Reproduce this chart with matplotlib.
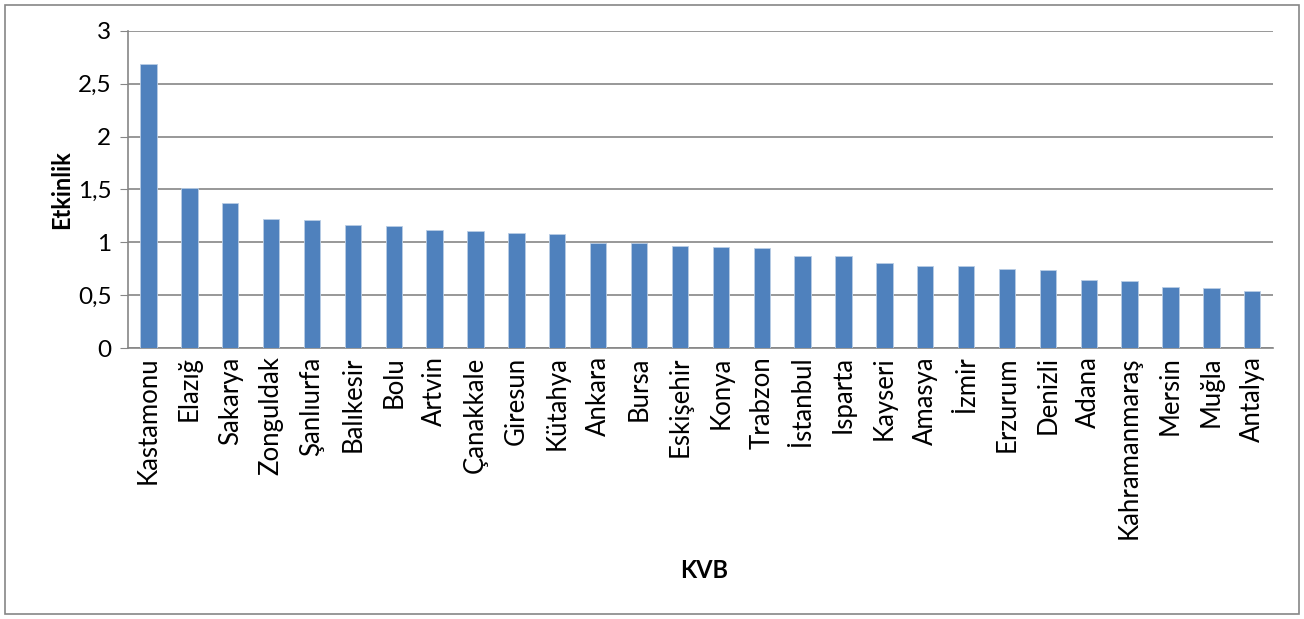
import numpy as np
import matplotlib.pyplot as plt
from matplotlib.patches import Rectangle

plt.rcParams['font.family'] = ['Lato', 'DejaVu Sans']

# veriler
iller = ['Kastamonu', 'Elazığ', 'Sakarya', 'Zonguldak', 'Şanlıurfa', 'Balıkesir',
         'Bolu', 'Artvin', 'Çanakkale', 'Giresun', 'Kütahya', 'Ankara', 'Bursa',
         'Eskişehir', 'Konya', 'Trabzon', 'İstanbul', 'Isparta', 'Kayseri',
         'Amasya', 'İzmir', 'Erzurum', 'Denizli', 'Adana', 'Kahramanmaraş',
         'Mersin', 'Muğla', 'Antalya']
etkinlik = [2.685, 1.515, 1.373, 1.216, 1.207, 1.166, 1.150, 1.112, 1.106, 1.090,
            1.078, 0.998, 0.995, 0.964, 0.955, 0.945, 0.872, 0.870, 0.803, 0.778,
            0.772, 0.745, 0.735, 0.640, 0.633, 0.577, 0.565, 0.542]
y_ticks = [0, 0.5, 1, 1.5, 2, 2.5, 3]
y_labels = ['0', '0,5', '1', '1,5', '2', '2,5', '3']

fig = plt.figure(figsize=(13.04, 6.19), dpi=100)
ax = fig.add_axes([0.0982, 0.4378, 0.8778, 0.5122])

x = np.arange(len(iller))
ax.bar(x, etkinlik, width=0.4, color='#4F81BD', edgecolor='#B9CDE5', linewidth=0.6, zorder=3)

ax.set_xlim(-0.5, len(iller) - 0.5)
ax.set_ylim(0, 3)
ax.set_yticks(y_ticks)
ax.set_yticklabels(y_labels, fontsize=17.5)
ax.set_xticks(x)
ax.set_xticklabels(iller, rotation=90, fontsize=18.5)
ax.tick_params(axis='x', length=0, pad=6)
ax.tick_params(axis='y', length=6, color='#868686', pad=6)

ax.grid(axis='y', color='#868686', linewidth=1.2, zorder=0)
for s in ['top', 'right']:
    ax.spines[s].set_visible(False)
ax.spines['left'].set_color('#868686')
ax.spines['bottom'].set_color('#868686')
ax.spines['left'].set_linewidth(1.2)
ax.spines['bottom'].set_linewidth(1.2)

ax.set_ylabel('Etkinlik', fontsize=17, fontweight='bold', labelpad=3)
fig.text(0.54, 0.078, 'KVB', fontsize=17, fontweight='bold', ha='center', va='center')

# dış çerçeve
fig.patches.append(Rectangle((0.004, 0.008), 0.992, 0.984, transform=fig.transFigure,
                             fill=False, edgecolor='#868686', linewidth=1.2))

plt.savefig('out.png', dpi=100)
